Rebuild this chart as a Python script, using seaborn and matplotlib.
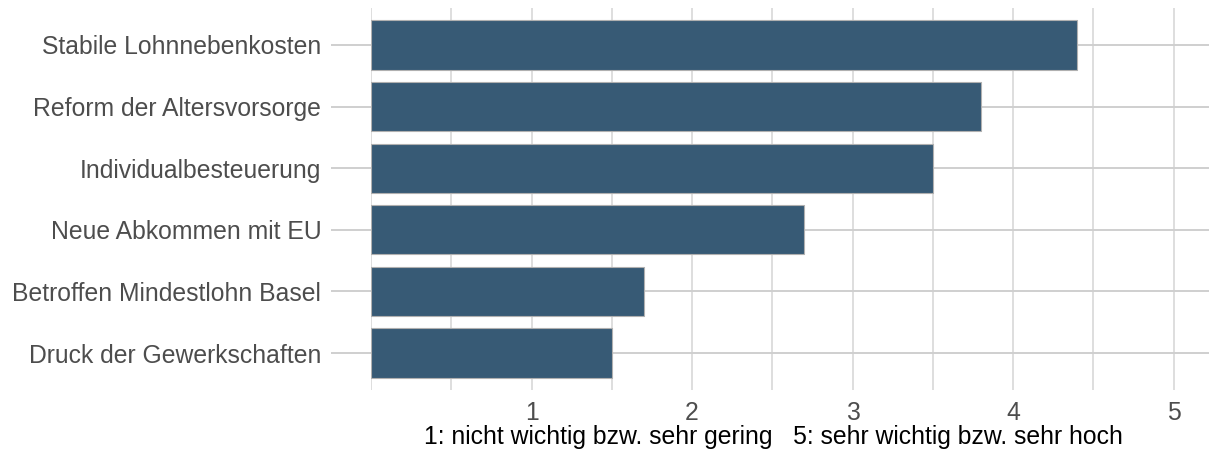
import seaborn as sns
import matplotlib.pyplot as plt
import pandas as pd
import numpy as np

themen = ['Stabile Lohnnebenkosten', 'Reform der Altersvorsorge', 'Individualbesteuerung',
          'Neue Abkommen mit EU', 'Betroffen Mindestlohn Basel', 'Druck der Gewerkschaften']
wichtigkeit = [4.4, 3.8, 3.5, 2.7, 1.7, 1.5]
x_ticks = [1, 2, 3, 4, 5]
x_label = '1: nicht wichtig bzw. sehr gering   5: sehr wichtig bzw. sehr hoch'

df = pd.DataFrame({'Thema': themen, 'Wert': wichtigkeit})

sns.set_style('white')
plt.rcParams['font.family'] = ['Liberation Sans', 'DejaVu Sans']

fig = plt.figure(figsize=(12.09, 4.53), dpi=100)
ax = fig.add_axes([371 / 1209, 1 - 390 / 453, 1 - 371 / 1209, (390 - 8) / 453])

# gridlines first so the bars sit on top
for v in np.arange(0, 5.51, 0.5):
    ax.axvline(v, color='#dedede', lw=1.4, zorder=0)
for i in range(len(themen)):
    ax.axhline(i, color='#cfcfcf', lw=1.4, zorder=0)

sns.barplot(data=df, x='Wert', y='Thema', orient='h', color='#375a75', saturation=1,
            width=0.8, edgecolor='#b0b0b0', linewidth=0.8, ax=ax, zorder=2)

ax.set_xlim(0, 5.22)
ax.set_ylim(5.6, -0.6)
ax.set_xticks(x_ticks)
ax.set_xticklabels([str(t) for t in x_ticks])
ax.set_xlabel(x_label, fontsize=17.8, color='black')
ax.xaxis.set_label_coords(0.48, -0.092)
ax.set_ylabel('')
ax.tick_params(axis='x', length=0, pad=8, labelsize=17.8, labelcolor='#4d4d4d')
ax.tick_params(axis='y', left=True, length=28.8, width=1.4, color='#cfcfcf', pad=7,
               labelsize=17.8, labelcolor='#4d4d4d')
for s in ax.spines.values():
    s.set_visible(False)

plt.savefig('out.png', dpi=100)
